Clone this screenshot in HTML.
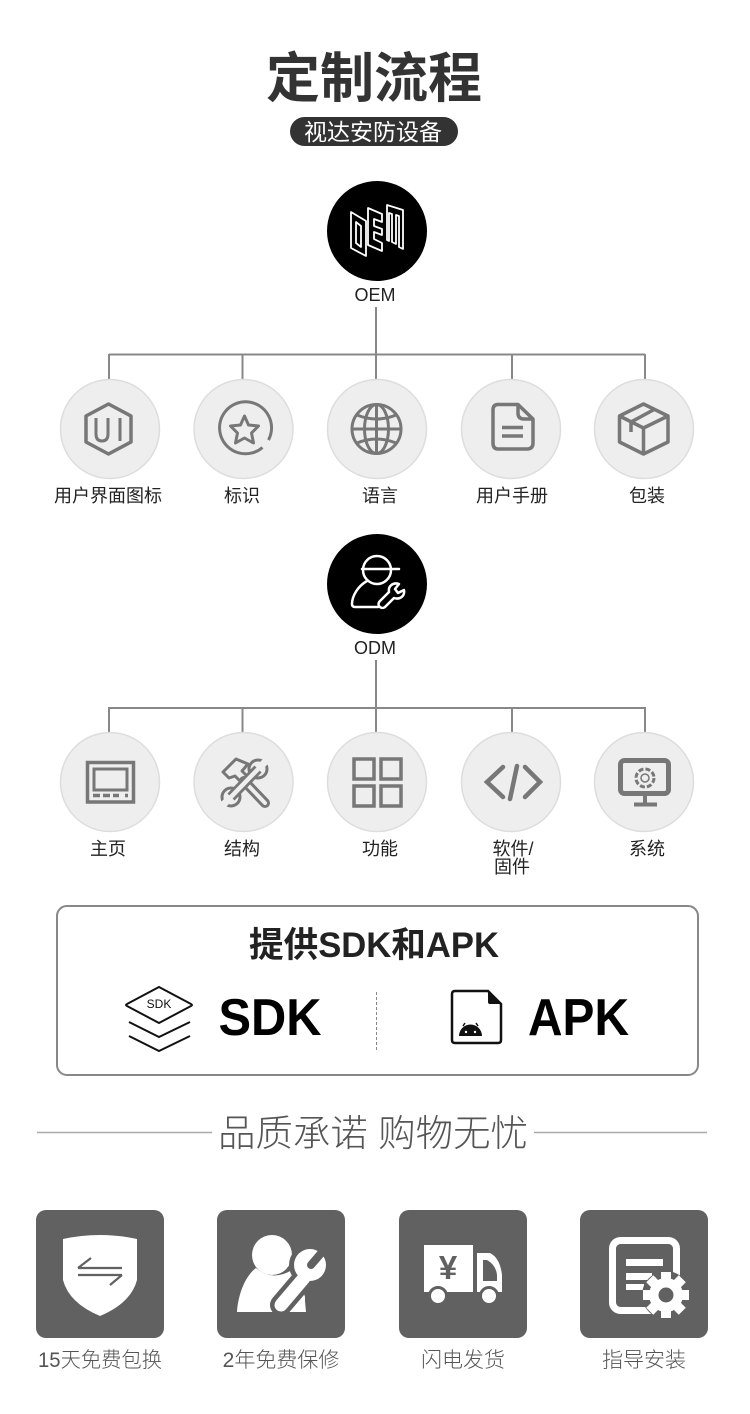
<!DOCTYPE html>
<html lang="zh"><head><meta charset="utf-8"><title>定制流程</title>
<style>
html,body{margin:0;padding:0;background:#fff}
svg{display:block}
text{font-family:"Liberation Sans","Noto Sans CJK SC",sans-serif;text-anchor:middle}
.l{font-size:18px;fill:#222}
.c{fill:#eee;stroke:#ddd;stroke-width:1.5}
.i{fill:none;stroke:#777;stroke-width:3.5;stroke-linejoin:round}
.w{fill:none;stroke:#fff;stroke-width:2.500;stroke-linejoin:round;stroke-linecap:round}
.b{font-size:21px;fill:#555;font-weight:300}
</style></head><body>
<svg width="750" height="1414" viewBox="0 0 750 1414" xmlns="http://www.w3.org/2000/svg">
<rect width="750" height="1414" fill="#fff"/>
<text x="374" y="97" font-size="54" font-weight="700" fill="#333">定制流程</text>
<rect x="290" y="117" width="168" height="29" rx="14.500" fill="#333"/>
<text x="373" y="140" font-size="23" fill="#fff">视达安防设备</text>

<!-- OEM -->
<circle cx="377" cy="231" r="50" fill="#000"/>
<g class="w" style="stroke-width:1.800">
<path d="M351 212L366 221V256L351 248ZM356 222L361 226V247L356 243Z"/>
<path d="M368 208L382 214V222L374 219V226L382 229V235L374 232V239L382 243V251L368 245Z"/>
<path d="M387 205L403 210V249L399 247V216L396 215V244L392 242V214L389 213V241L387 240Z"/>
</g>
<text x="375" y="301" class="l">OEM</text>
<g stroke="#888" stroke-width="2" fill="none">
<path d="M376 307V380M109 354.500H645M109 354V380M242.500 354V380M512 354V380M645 354V380"/>
<path d="M376 660V733M109 708H645M109 707V733M242.500 707V733M512 707V733M645 707V733"/>
</g>
<circle class="c" cx="110" cy="429" r="49.500"/><circle class="c" cx="243.500" cy="429" r="49.500"/><circle class="c" cx="377" cy="429" r="49.500"/><circle class="c" cx="511" cy="429" r="49.500"/><circle class="c" cx="644" cy="429" r="49.500"/>
<!-- UI -->
<path class="i" d="M108.500 404L131 416V442L108.500 454L86 442V416Z"/>
<path class="i" d="M96 418V434Q96 441 102 441Q108 441 108 434V418M120 418V441" style="stroke-width:3"/>
<!-- star -->
<path class="i" style="stroke-width:3" d="M262.500 447.500A26 26 0 1 1 268.500 440"/>
<path class="i" style="stroke-width:3" d="M244.500 416L248.500 425L258.500 426L251.500 433L253.500 443L244.500 438L235.500 443L237.500 433L230.500 426L240.500 425Z"/>
<!-- globe -->
<g class="i" style="stroke-width:3"><circle cx="376.500" cy="429" r="24.500"/><ellipse cx="376.500" cy="429" rx="12" ry="24.500"/><path d="M376.500 404.500V453.500M352 429H401M357 415Q376.500 423 396 415M357 443Q376.500 435 396 443"/></g>
<!-- doc -->
<path class="i" d="M498 404.500H518L533 419V443Q533 449 527 449H498Q493 449 493 443V410Q493 404.500 498 404.500ZM518 404.500V413Q518 419 524 419H533"/>
<path class="i" d="M502 427.500H523M502 436H523"/>
<!-- box -->
<g class="i"><path d="M643.500 404L668 416V442L643.500 454L619.500 442V416Z"/><path d="M619.500 416L643.500 428L668 416M643.500 428V454M655 409L631 422V432"/></g>
<text x="108" y="502" class="l">用户界面图标</text><text x="242" y="502" class="l">标识</text><text x="380" y="502" class="l">语言</text><text x="512" y="502" class="l">用户手册</text><text x="647" y="502" class="l">包装</text>

<!-- ODM -->
<circle cx="377" cy="584" r="50" fill="#000"/>
<g class="w">
<circle cx="377" cy="570" r="14"/><path d="M362 569H399" />
<path d="M367 581C358 586 352 596 352 604Q352 607 355 607H378"/>
<path d="M380 601L389 592C388 586 393 582 399 584L395 589L398 593L404 590C405 596 400 600 394 598L385 607C381 610 376 605 380 601Z"/>
</g>
<text x="375" y="654" class="l">ODM</text>
<circle class="c" cx="110" cy="782" r="49.500"/><circle class="c" cx="243.500" cy="782" r="49.500"/><circle class="c" cx="377" cy="782" r="49.500"/><circle class="c" cx="511" cy="782" r="49.500"/><circle class="c" cx="644" cy="782" r="49.500"/>
<!-- home -->
<rect x="87.500" y="762.500" width="46" height="39.500" fill="none" stroke="#777" stroke-width="3.500"/>
<rect x="94" y="769" width="33" height="21" fill="none" stroke="#777" stroke-width="3"/>
<path d="M93 795.500H100M103 795.500H110M113 795.500H119M125 795.500H128" stroke="#777" stroke-width="3.500"/>
<!-- tools -->
<path d="M223 772L236 759L248 764L242 771L247 776L241 782L235 776L229 778Z" fill="#eee" stroke="#777" stroke-width="3" stroke-linejoin="round"/>
<path d="M244 781L265 803" stroke="#777" stroke-width="10" stroke-linecap="round"/>
<path d="M244 781L265 803" stroke="#eee" stroke-width="4" stroke-linecap="round"/>
<circle cx="258" cy="769" r="9" fill="#eee" stroke="#777" stroke-width="3"/>
<circle cx="231" cy="797" r="9" fill="#eee" stroke="#777" stroke-width="3"/>
<path d="M231 797L258 769" stroke="#777" stroke-width="10"/>
<path d="M228 800L261 766" stroke="#eee" stroke-width="4.500"/>
<path d="M259 768L270 757M230 798L219 809" stroke="#eee" stroke-width="7"/>
<!-- grid -->
<g fill="none" stroke="#777" stroke-width="3.500"><rect x="354" y="759" width="20" height="20"/><rect x="381" y="759" width="20" height="20"/><rect x="354" y="786" width="20" height="20"/><rect x="381" y="786" width="20" height="20"/></g>
<!-- code -->
<g fill="none" stroke="#777" stroke-width="4.500" stroke-linecap="round"><path d="M503 767L487 782L503 797M525 767L540 782L525 797M517 766L510 799"/></g>
<!-- monitor -->
<rect x="620.500" y="760.500" width="48" height="33" rx="4" fill="none" stroke="#777" stroke-width="5"/>
<path d="M645 796V804M634 804.500H657" stroke="#777" stroke-width="4" fill="none"/>
<circle cx="645" cy="778" r="9" fill="none" stroke="#777" stroke-width="3" stroke-dasharray="5 2.100"/><circle cx="645" cy="778" r="4" fill="none" stroke="#777" stroke-width="1.500"/>
<text x="108" y="855" class="l">主页</text><text x="242" y="855" class="l">结构</text><text x="380" y="855" class="l">功能</text><text x="513" y="855" class="l">软件/</text><text x="512" y="873" class="l">固件</text><text x="647" y="855" class="l">系统</text>

<!-- SDK/APK -->
<rect x="57" y="906" width="641" height="169" rx="10" fill="#fff" stroke="#888" stroke-width="2"/>
<text x="374" y="957" font-size="35" font-weight="700" fill="#222" textLength="250" lengthAdjust="spacingAndGlyphs">提供SDK和APK</text>
<path d="M159 987L191 1004Q193 1005 191 1006L159 1023L127 1006Q125 1005 127 1004Z" fill="none" stroke="#111" stroke-width="2"/>
<text x="159" y="1008" font-size="12" fill="#111">SDK</text>
<path d="M129 1022L159 1037L190 1022M129 1036L159 1051L190 1036" fill="none" stroke="#111" stroke-width="2"/>
<text x="270" y="1035" font-size="52" font-weight="700" fill="#000" textLength="103" lengthAdjust="spacingAndGlyphs">SDK</text>
<path d="M376.500 992V1050" stroke="#888" stroke-width="1" stroke-dasharray="3 2"/>
<path d="M455 991H488L501 1004V1040Q501 1043 498 1043H455Q452 1043 452 1040V994Q452 991 455 991Z" fill="none" stroke="#111" stroke-width="2.500"/>
<path d="M488 991L501 1004H490Q488 1004 488 1002Z" fill="#111"/>
<path d="M459 1036A11 11 0 0 1 482 1036Z" fill="#111"/>
<path d="M463 1026L465 1023M478 1026L476 1023" stroke="#111" stroke-width="1.500"/>
<circle cx="466" cy="1032" r="1.200" fill="#fff"/><circle cx="475" cy="1032" r="1.200" fill="#fff"/>
<text x="578.500" y="1035" font-size="52" font-weight="700" fill="#000" textLength="101" lengthAdjust="spacingAndGlyphs">APK</text>

<!-- pledge -->
<path d="M37 1132.500H212M534 1132.500H707" stroke="#aaa" stroke-width="1.500"/>
<text x="373" y="1146" font-size="37" fill="#555" font-weight="300" textLength="310" lengthAdjust="spacingAndGlyphs">品质承诺 购物无忧</text>
<rect x="36" y="1210" width="128" height="128" rx="10" fill="#616161"/>
<rect x="217" y="1210" width="128" height="128" rx="10" fill="#616161"/>
<rect x="399" y="1210" width="128" height="128" rx="10" fill="#616161"/>
<rect x="580" y="1210" width="128" height="128" rx="10" fill="#616161"/>
<!-- shield -->
<path d="M63 1239Q100 1231 137 1239V1280Q131 1303 100 1316Q69 1303 63 1280Z" fill="#fff"/>
<path d="M78 1268H122M91 1258L78 1268M78 1275H122M122 1275L110 1285" fill="none" stroke="#616161" stroke-width="2.200"/>
<!-- person wrench -->
<circle cx="272" cy="1255" r="20" fill="#fff"/>
<path d="M256 1268C245 1276 238 1295 237 1312H306L304 1290L292 1270Q272 1282 256 1268Z" fill="#fff"/>
<path d="M281 1305L304 1278" stroke="#616161" stroke-width="22" stroke-linecap="round"/>
<circle cx="310" cy="1265" r="21" fill="#616161"/>
<path d="M281 1305L304 1278" stroke="#fff" stroke-width="13" stroke-linecap="round"/>
<circle cx="310" cy="1265" r="16" fill="#fff"/>
<path d="M311 1265L323 1251" stroke="#616161" stroke-width="8" stroke-linecap="round"/>
<path d="M290 1312H305V1296Z" fill="#fff"/>
<!-- truck -->
<rect x="424" y="1245" width="49" height="47" fill="#fff"/>
<path d="M477 1253H490Q500 1258 502 1275V1292H477Z" fill="#fff"/>
<path d="M483 1260H487Q496 1265 497 1275V1281H483Z" fill="#616161"/>
<text x="448" y="1279" font-size="33" font-weight="700" fill="#616161">¥</text>
<circle cx="438" cy="1296" r="8.500" fill="#fff" stroke="#616161" stroke-width="3"/>
<circle cx="489" cy="1296" r="8.500" fill="#fff" stroke="#616161" stroke-width="3"/>
<!-- install -->
<rect x="612.500" y="1240.500" width="64" height="70" rx="8" fill="none" stroke="#fff" stroke-width="7"/>
<path d="M626 1259H663V1266H626ZM626 1273H652V1280H626ZM626 1284H644V1290H626Z" fill="#fff"/>
<circle cx="666" cy="1295" r="24" fill="#616161"/>
<circle cx="666" cy="1295" r="17" fill="#fff"/>
<g fill="#fff">
<rect x="661" y="1272" width="10" height="9"/>
<rect x="661" y="1272" width="10" height="9" transform="rotate(45 666 1295)"/>
<rect x="661" y="1272" width="10" height="9" transform="rotate(90 666 1295)"/>
<rect x="661" y="1272" width="10" height="9" transform="rotate(135 666 1295)"/>
<rect x="661" y="1272" width="10" height="9" transform="rotate(180 666 1295)"/>
<rect x="661" y="1272" width="10" height="9" transform="rotate(225 666 1295)"/>
<rect x="661" y="1272" width="10" height="9" transform="rotate(270 666 1295)"/>
<rect x="661" y="1272" width="10" height="9" transform="rotate(315 666 1295)"/>
</g>
<circle cx="666" cy="1295" r="7.500" fill="#616161"/>
<text x="100" y="1367" class="b" textLength="124" lengthAdjust="spacingAndGlyphs">15天免费包换</text><text x="281" y="1367" class="b">2年免费保修</text><text x="463" y="1367" class="b">闪电发货</text><text x="644" y="1367" class="b">指导安装</text>
</svg>
</body></html>
